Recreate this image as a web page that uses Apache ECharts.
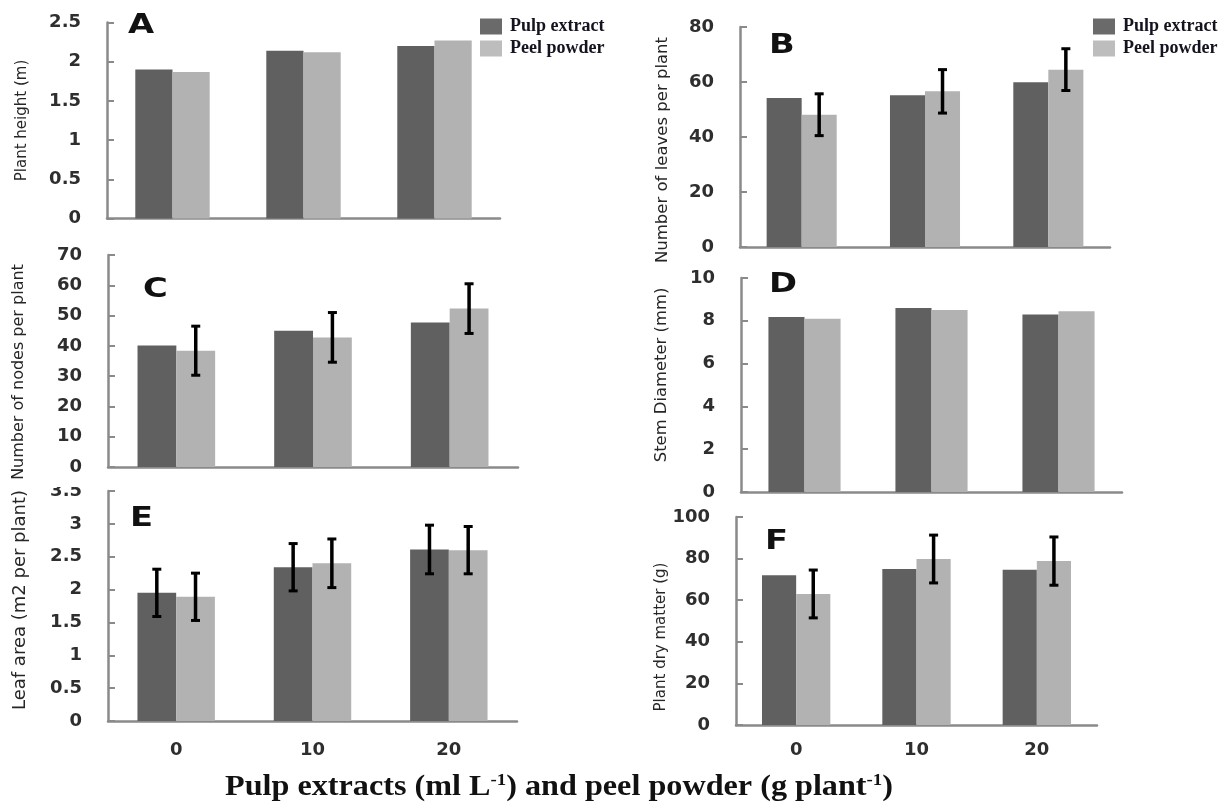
<!DOCTYPE html>
<html><head><meta charset="utf-8">
<script src="https://cdn.jsdelivr.net/npm/echarts@6/dist/echarts.min.js"></script>
<style>html,body{margin:0;padding:0;background:#fff}#chart{width:1230px;height:810px}</style>
</head><body><div id="chart"></div>
<script>
// ---------- data ----------
const categories = ['0', '10', '20'];
const seriesNames = ['Pulp extract', 'Peel powder'];

const heightPulp = [1.90, 2.14, 2.20];
const heightPeel = [1.87, 2.12, 2.27];

const leavesPulp = [54.2, 55.2, 59.9];
const leavesPeel = [48.1, 56.6, 64.5];
const leavesPeelErr = [7.6, 7.9, 7.6];

const nodesPulp = [40.1, 45.0, 47.7];
const nodesPeel = [38.4, 42.8, 52.3];
const nodesPeelErr = [8.1, 8.2, 8.2];

const stemPulp = [8.18, 8.60, 8.30];
const stemPeel = [8.10, 8.50, 8.45];

const leafAreaPulp = [1.95, 2.34, 2.61];
const leafAreaPulpErr = [0.36, 0.36, 0.37];
const leafAreaPeel = [1.89, 2.40, 2.60];
const leafAreaPeelErr = [0.36, 0.37, 0.36];

const dryPulp = [72.0, 75.0, 74.6];
const dryPeel = [63.0, 79.8, 78.8];
const dryPeelErr = [11.5, 11.5, 11.6];

// ---------- styles ----------
const DARK = '#606060', LIGHT = '#b2b2b2';
const AXIS = '#8a8a8a';
const BAR_FRAC = 0.284;
const TICK_FONT = {fontFamily: 'DejaVu Sans', fontWeight: 'bold', fontSize: 18, color: '#2e2e2e'};

const panels = [
  {letter: 'A', name: 'Plant height (m)', max: 2.5, interval: 0.5, pulp: heightPulp, peel: heightPeel,
   grid: {left: 107, top: 22.5, width: 393, height: 196}, nameGap: 77, nameSize: 15, nameShift: 0, letterPos: [128, 26], showX: false},
  {letter: 'B', name: 'Number of leaves per plant', max: 80, interval: 20, pulp: leavesPulp, peel: leavesPeel, peelErr: leavesPeelErr,
   grid: {left: 740, top: 27, width: 370, height: 220}, nameGap: 69, nameSize: 16.5, nameShift: -13, letterPos: [769, 46], showX: false},
  {letter: 'C', name: 'Number of nodes per plant', max: 70, interval: 10, pulp: nodesPulp, peel: nodesPeel, peelErr: nodesPeelErr,
   grid: {left: 108, top: 255, width: 410, height: 212}, nameGap: 81, nameSize: 16, nameShift: -11, letterPos: [143, 290], showX: false},
  {letter: 'D', name: 'Stem Diameter (mm)', max: 10, interval: 2, pulp: stemPulp, peel: stemPeel,
   grid: {left: 741, top: 278, width: 381, height: 214}, nameGap: 71, nameSize: 16.4, nameShift: 10, letterPos: [769, 285], showX: false},
  {letter: 'E', name: 'Leaf area (m2 per plant)', max: 3.5, interval: 0.5, pulp: leafAreaPulp, peel: leafAreaPeel, pulpErr: leafAreaPulpErr, peelErr: leafAreaPeelErr,
   grid: {left: 108, top: 491, width: 409, height: 230}, nameGap: 79, nameSize: 18, nameShift: 6, letterPos: [130, 519], showX: true, xMargin: 20},
  {letter: 'F', name: 'Plant dry matter (g)', max: 100, interval: 20, pulp: dryPulp, peel: dryPeel, peelErr: dryPeelErr,
   grid: {left: 736, top: 517, width: 361, height: 208}, nameGap: 67, nameSize: 15, nameShift: -16, letterPos: [765, 542], showX: true, xMargin: 16}
];

function errSeries(gi, vals, errs, side) {
  return {
    type: 'custom', name: 'err', xAxisIndex: gi, yAxisIndex: gi, z: 5, silent: true,
    data: vals.map((v, i) => [i, v, errs[i]]),
    renderItem(params, api) {
      const i = api.value(0), v = api.value(1), e = api.value(2);
      const catW = api.size([1, 0])[0];
      const hi = api.coord([i, v + e]), lo = api.coord([i, v - e]);
      const x = hi[0] + side * catW * BAR_FRAC / 2;
      const cap = 4.5;
      return {type: 'group', children: [
        {type: 'line', shape: {x1: x, y1: hi[1], x2: x, y2: lo[1]}, style: {stroke: '#000', lineWidth: 3.5}},
        {type: 'line', shape: {x1: x - cap, y1: hi[1], x2: x + cap, y2: hi[1]}, style: {stroke: '#000', lineWidth: 3}},
        {type: 'line', shape: {x1: x - cap, y1: lo[1], x2: x + cap, y2: lo[1]}, style: {stroke: '#000', lineWidth: 3}}
      ]};
    }
  };
}

const grid = [], xAxis = [], yAxis = [], series = [], graphic = [];
panels.forEach((p, gi) => {
  grid.push(Object.assign({containLabel: false, outerBoundsMode: 'none'}, p.grid));
  xAxis.push({
    type: 'category', gridIndex: gi, data: categories,
    axisLine: {show: true, lineStyle: {color: AXIS, width: 2.5}},
    axisTick: {show: false},
    axisLabel: Object.assign({show: p.showX, margin: p.xMargin || 10}, TICK_FONT)
  });
  const pad = p.nameShift > 0 ? [0, 0, 0, 2 * p.nameShift] : [0, -2 * p.nameShift, 0, 0];
  yAxis.push({
    type: 'value', gridIndex: gi, min: 0, max: p.max, interval: p.interval,
    name: p.name, nameLocation: 'middle', nameRotate: 90, nameGap: p.nameGap,
    nameTextStyle: {fontFamily: 'DejaVu Sans', fontSize: p.nameSize, color: '#262626', padding: pad},
    axisLine: {show: true, lineStyle: {color: AXIS, width: 2.5}},
    axisTick: {show: true, inside: true, length: 7, lineStyle: {color: AXIS, width: 2}},
    splitLine: {show: false},
    axisLabel: Object.assign({margin: 26}, TICK_FONT)
  });
  series.push({type: 'bar', name: seriesNames[0], xAxisIndex: gi, yAxisIndex: gi, data: p.pulp,
    barWidth: (BAR_FRAC * 100) + '%', barGap: '0%', itemStyle: {color: DARK}});
  series.push({type: 'bar', name: seriesNames[1], xAxisIndex: gi, yAxisIndex: gi, data: p.peel,
    barWidth: (BAR_FRAC * 100) + '%', barGap: '0%', itemStyle: {color: LIGHT}});
  if (p.pulpErr) series.push(errSeries(gi, p.pulp, p.pulpErr, -1));
  if (p.peelErr) series.push(errSeries(gi, p.peel, p.peelErr, 1));
  graphic.push({type: 'text', x: p.letterPos[0], y: p.letterPos[1], z: 10, scaleX: 1.25,
    style: {text: p.letter, fontFamily: 'DejaVu Sans', fontWeight: 'bold', fontSize: 27, fill: '#111', verticalAlign: 'middle'}});
});

// cover upper half of the clipped "3.5" label (as in the reference)
graphic.push({type: 'rect', z: 100, shape: {x: 40, y: 476, width: 62, height: 11}, style: {fill: '#fff'}});

// bottom axis title
graphic.push({type: 'text', x: 559, y: 788, z: 10, scaleX: 1.11, style: {
  text: 'Pulp extracts (ml L{sup|-1}) and peel powder (g plant{sup|-1})',
  fontFamily: 'Liberation Serif', fontWeight: 'bold', fontSize: 29, fill: '#111',
  align: 'center', verticalAlign: 'middle', lineHeight: 32,
  rich: {sup: {fontFamily: 'Liberation Serif', fontWeight: 'bold', fontSize: 17, fill: '#111', verticalAlign: 'top', lineHeight: 18}}
}});

const legendText = {fontFamily: 'Liberation Serif', fontWeight: 'bold', fontSize: 18, color: '#141420', lineHeight: 19, padding: [0, 0, 0, 3]};
const legendData = [{name: seriesNames[0], itemStyle: {color: '#6a6a6a'}}, {name: seriesNames[1], itemStyle: {color: '#bdbdbd'}}];
const legend = [
  {left: 475, top: 12, orient: 'vertical', icon: 'rect', itemWidth: 22, itemHeight: 16, itemGap: 3, selectedMode: false, data: legendData, textStyle: legendText},
  {left: 1088, top: 12, orient: 'vertical', icon: 'rect', itemWidth: 22, itemHeight: 16, itemGap: 3, selectedMode: false, data: legendData, textStyle: legendText}
];

const chart = echarts.init(document.getElementById('chart'), null, {renderer: 'canvas'});
chart.setOption({backgroundColor: '#fff', animation: false, grid, xAxis, yAxis, series, legend, graphic});
</script></body></html>
